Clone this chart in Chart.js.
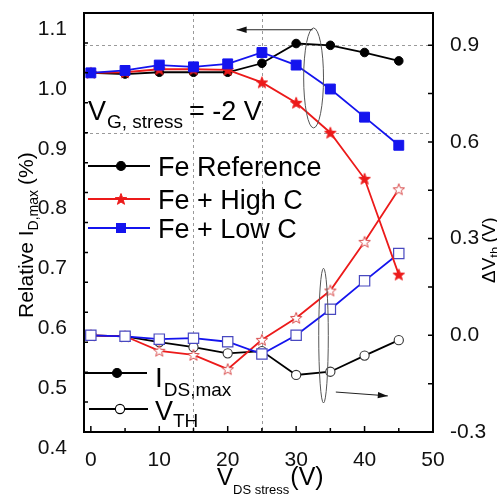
<!DOCTYPE html>
<html>
<head>
<meta charset="utf-8">
<script src="https://cdn.jsdelivr.net/npm/chart.js@4.4.1/dist/chart.umd.min.js"></script>
<style>
  html, body { margin: 0; padding: 0; background: #fff; }
  #wrap { width: 497px; height: 496px; }
</style>
</head>
<body>
<div id="wrap"><canvas id="c" width="497" height="496"></canvas></div>
<script>
// Drain stress voltage (V)
const vdsStress = [0, 5, 10, 15, 20, 25, 30, 35, 40, 45];

// Relative I_D,max (left axis)
const idsReference = [1.000, 0.998, 1.001, 1.001, 1.001, 1.016, 1.049, 1.046, 1.034, 1.020];
const idsHighC     = [1.000, 1.001, 1.006, 1.006, 1.005, 0.984, 0.950, 0.900, 0.823, 0.663];
const idsLowC      = [1.000, 1.004, 1.013, 1.010, 1.015, 1.034, 1.013, 0.973, 0.926, 0.879];

// Threshold voltage shift, V (right axis)
const vthReference = [0.000, -0.003, -0.021, -0.037, -0.056, -0.049, -0.123, -0.113, -0.063, -0.015];
const vthHighC     = [0.000, -0.003, -0.048, -0.061, -0.105, -0.014, 0.054, 0.139, 0.290, 0.453];
const vthLowC      = [0.000, -0.003, -0.012, -0.009, -0.020, -0.058, 0.000, 0.081, 0.169, 0.254];

// Axis ticks (marks) and labelled values
const xTickValues = [0, 5, 10, 15, 20, 25, 30, 35, 40, 45, 50];
const xTickLabels = [0, 10, 20, 30, 40, 50];
const leftTickValues = [0.4, 0.45, 0.5, 0.55, 0.6, 0.65, 0.7, 0.75, 0.8, 0.85, 0.9, 0.95, 1.0, 1.05, 1.1];
const leftTickLabels = [0.4, 0.5, 0.6, 0.7, 0.8, 0.9, 1.0, 1.1];
const rightTickValues = [-0.3, -0.15, 0, 0.15, 0.3, 0.45, 0.6, 0.75, 0.9];
const rightTickLabels = [-0.3, 0, 0.3, 0.6, 0.9];

const FONT = '"Liberation Sans", Arial, Helvetica, sans-serif';
const RED = '#ec1a1a';
const BLUE = '#1414ee';
const OPEN_RED = '#d84a4a';
const OPEN_BLUE = '#4848c0';

const pts = (ys) => vdsStress.map((x, i) => ({ x, y: ys[i] }));
const near = (v, list) => list.some(l => Math.abs(l - v) < 1e-6);

function starCanvas(r, fill, stroke, lw) {
  const s = Math.ceil(2 * r + 2 * lw + 2);
  const c = document.createElement('canvas');
  c.width = s; c.height = s;
  const g = c.getContext('2d');
  g.translate(s / 2, s / 2 + 0.5);
  g.beginPath();
  for (let i = 0; i < 10; i++) {
    const rr = i % 2 ? r * 0.42 : r;
    const a = -Math.PI / 2 + i * Math.PI / 5;
    g.lineTo(rr * Math.cos(a), rr * Math.sin(a));
  }
  g.closePath();
  g.fillStyle = fill; g.fill();
  g.lineWidth = lw; g.strokeStyle = stroke; g.stroke();
  return c;
}
const starFilled = starCanvas(6, RED, RED, 1);
const starOpen = starCanvas(6, '#fff', OPEN_RED, 1);

function series(label, data, axis, color, style, radius, fill, border, bw) {
  return {
    label, data: pts(data), yAxisID: axis,
    borderColor: color, borderWidth: 1.8, tension: 0,
    pointStyle: style, pointRadius: radius,
    pointBackgroundColor: fill, pointBorderColor: border, pointBorderWidth: bw,
    fill: false
  };
}

const datasets = [
  series('Fe + Low C', idsLowC, 'y', BLUE, 'rect', 7, BLUE, BLUE, 1),
  series('Fe + High C', idsHighC, 'y', RED, starFilled, 6, RED, RED, 1),
  series('Fe Reference', idsReference, 'y', '#000', 'circle', 4.3, '#000', '#000', 1),
  series('Fe + Low C', vthLowC, 'y2', BLUE, 'rect', 7.3, '#fff', OPEN_BLUE, 1.2),
  series('Fe + High C', vthHighC, 'y2', RED, starOpen, 6, '#fff', OPEN_RED, 1),
  series('Fe Reference', vthReference, 'y2', '#000', 'circle', 4.6, '#fff', '#333', 1.1)
];

// dashed reference lines, inner tick marks, frame
const framePlugin = {
  id: 'frame',
  beforeDatasetsDraw(chart) {
    const { ctx, chartArea: a, scales } = chart;
    ctx.save();
    ctx.strokeStyle = '#9a9a9a';
    ctx.lineWidth = 1;
    ctx.setLineDash([3, 3]);
    const hline = (y) => { ctx.beginPath(); ctx.moveTo(a.left, y); ctx.lineTo(a.right, y); ctx.stroke(); };
    const vline = (x) => { ctx.beginPath(); ctx.moveTo(x, a.top); ctx.lineTo(x, a.bottom); ctx.stroke(); };
    hline(Math.round(scales.y2.getPixelForValue(0.9)) + 0.5);
    hline(Math.round(scales.y.getPixelForValue(0.9)) + 0.5);
    vline(Math.round(scales.x.getPixelForValue(15)) + 0.5);
    vline(Math.round(scales.x.getPixelForValue(25)) + 0.5);
    ctx.restore();
  },
  afterDraw(chart) {
    const { ctx, chartArea: a, scales } = chart;
    ctx.save();
    ctx.strokeStyle = '#000';
    ctx.lineWidth = 1.5;
    ctx.setLineDash([]);
    ctx.beginPath();
    xTickValues.forEach(v => {
      const x = scales.x.getPixelForValue(v);
      const len = near(v, xTickLabels) ? 6 : 4;
      ctx.moveTo(x, a.bottom); ctx.lineTo(x, a.bottom - len);
    });
    leftTickValues.forEach(v => {
      const y = scales.y.getPixelForValue(v);
      ctx.moveTo(a.left, y); ctx.lineTo(a.left + 4, y);
    });
    rightTickValues.forEach(v => {
      const y = scales.y2.getPixelForValue(v);
      ctx.moveTo(a.right, y); ctx.lineTo(a.right - 5, y);
    });
    ctx.stroke();
    ctx.lineWidth = 2;
    ctx.strokeRect(a.left, a.top, a.right - a.left, a.bottom - a.top);
    ctx.restore();
  }
};

// text runs with subscripts: [text, size, baselineShift]
function runs(ctx, x, y, parts, color) {
  ctx.fillStyle = color || '#000';
  ctx.textBaseline = 'alphabetic';
  ctx.textAlign = 'left';
  let cx = x;
  parts.forEach(([t, size, dy]) => {
    ctx.font = size + 'px ' + FONT;
    ctx.fillText(t, cx, y + (dy || 0));
    cx += ctx.measureText(t).width;
  });
  return cx;
}

function arrow(ctx, x1, y1, x2, y2) {
  ctx.beginPath(); ctx.moveTo(x1, y1); ctx.lineTo(x2, y2); ctx.stroke();
  const ang = Math.atan2(y2 - y1, x2 - x1);
  const L = 10, W = 3.2;
  ctx.beginPath();
  ctx.moveTo(x2, y2);
  ctx.lineTo(x2 - L * Math.cos(ang) + W * Math.sin(ang), y2 - L * Math.sin(ang) - W * Math.cos(ang));
  ctx.lineTo(x2 - L * Math.cos(ang) - W * Math.sin(ang), y2 - L * Math.sin(ang) + W * Math.cos(ang));
  ctx.closePath(); ctx.fill();
}

function marker(ctx, kind, x, y) {
  ctx.save();
  if (kind === 'circle' || kind === 'ocircle') {
    ctx.beginPath(); ctx.arc(x, y, kind === 'circle' ? 4.5 : 4.6, 0, Math.PI * 2);
    ctx.fillStyle = kind === 'circle' ? '#000' : '#fff'; ctx.fill();
    ctx.lineWidth = 1.1; ctx.strokeStyle = '#000'; ctx.stroke();
  } else if (kind === 'star') {
    ctx.drawImage(starFilled, x - starFilled.width / 2, y - starFilled.height / 2);
  } else if (kind === 'rect') {
    ctx.fillStyle = BLUE; ctx.fillRect(x - 5, y - 5, 10, 10);
  }
  ctx.restore();
}

const textPlugin = {
  id: 'texts',
  afterDraw(chart) {
    const { ctx, scales } = chart;
    const X = (v) => scales.x.getPixelForValue(v);
    const YL = (v) => scales.y.getPixelForValue(v);
    const YR = (v) => scales.y2.getPixelForValue(v);
    ctx.save();

    // stress condition
    let cx = runs(ctx, 88, 120, [['V', 27]]);
    cx = runs(ctx, cx + 1, 128, [['G, stress', 19]]);
    runs(ctx, cx + 6, 120, [['= -2 V', 27]]);

    // material legend
    const items = [
      ['Fe Reference', '#000', 'circle', 166],
      ['Fe + High C', RED, 'star', 199],
      ['Fe + Low C', BLUE, 'rect', 228]
    ];
    items.forEach(([label, color, kind, y]) => {
      ctx.strokeStyle = color; ctx.lineWidth = 2;
      ctx.beginPath(); ctx.moveTo(88, y); ctx.lineTo(150, y); ctx.stroke();
      marker(ctx, kind, 121, y);
      runs(ctx, 158, y + 10, [['' + label, 27]]);
    });

    // quantity legend
    ctx.strokeStyle = '#000'; ctx.lineWidth = 2;
    ctx.beginPath(); ctx.moveTo(85, 373); ctx.lineTo(147, 373); ctx.stroke();
    marker(ctx, 'circle', 117, 373);
    cx = runs(ctx, 155, 387, [['I', 28]]);
    runs(ctx, cx + 1, 396, [['DS,max', 19]]);
    ctx.strokeStyle = '#000'; ctx.lineWidth = 2;
    ctx.beginPath(); ctx.moveTo(89, 409); ctx.lineTo(148, 409); ctx.stroke();
    marker(ctx, 'ocircle', 120, 409);
    cx = runs(ctx, 155, 420, [['V', 27]]);
    runs(ctx, cx, 427, [['TH', 19]]);

    // x axis title
    cx = runs(ctx, 217, 485, [['V', 24]]);
    cx = runs(ctx, cx, 494, [['DS stress', 13]]);
    runs(ctx, cx + 1, 485, [['(V)', 25]]);

    // left axis title
    ctx.save();
    ctx.translate(33, 318);
    ctx.rotate(-Math.PI / 2);
    cx = runs(ctx, 0, 0, [['Relative I', 21]]);
    cx = runs(ctx, cx, 5, [['D,max', 14]]);
    runs(ctx, cx + 5, 0, [['(%)', 21]]);
    ctx.restore();

    // right axis title
    ctx.save();
    ctx.translate(495, 283);
    ctx.rotate(-Math.PI / 2);
    cx = runs(ctx, 0, 0, [['\u0394V', 19]]);
    cx = runs(ctx, cx, 4, [['th', 13]]);
    runs(ctx, cx + 4, 0, [['(V)', 19]]);
    ctx.restore();

    // group markers: ellipse + arrow for each axis
    ctx.strokeStyle = '#555'; ctx.lineWidth = 1;
    const e1 = { x1: X(31.1), x2: X(34.0), y1: YL(1.075), y2: YL(0.908) };
    ctx.beginPath();
    ctx.ellipse((e1.x1 + e1.x2) / 2, (e1.y1 + e1.y2) / 2, (e1.x2 - e1.x1) / 2, (e1.y2 - e1.y1) / 2, 0, 0, Math.PI * 2);
    ctx.stroke();
    const e2 = { x1: X(33.3), x2: X(34.7), y1: YR(0.208), y2: YR(-0.210) };
    ctx.beginPath();
    ctx.ellipse((e2.x1 + e2.x2) / 2, (e2.y1 + e2.y2) / 2, (e2.x2 - e2.x1) / 2, (e2.y2 - e2.y1) / 2, 0, 0, Math.PI * 2);
    ctx.stroke();

    ctx.strokeStyle = '#222'; ctx.fillStyle = '#111'; ctx.lineWidth = 1;
    arrow(ctx, X(32.4), YL(1.072), X(21.3), YL(1.072));
    arrow(ctx, X(35.8), YR(-0.176), X(43.4), YR(-0.188));
    ctx.restore();
  }
};

const tickFont = { family: FONT, size: 21 };

// keep the plot box fixed: no automatic label overhang padding
const fitY = (w) => (s) => { s.width = w; s.paddingTop = 0; s.paddingBottom = 0; };
const fitX = (h) => (s) => { s.height = h; s.paddingLeft = 0; s.paddingRight = 0; };

new Chart(document.getElementById('c'), {
  type: 'line',
  data: { datasets },
  options: {
    responsive: false,
    animation: false,
    events: [],
    layout: { padding: { top: 13, left: 0, right: 0, bottom: 0 } },
    plugins: { legend: { display: false }, tooltip: { enabled: false } },
    scales: {
      x: {
        type: 'linear', position: 'bottom', min: -1, max: 50,
        afterBuildTicks: (s) => { s.ticks = xTickValues.map(v => ({ value: v })); },
        afterFit: fitX(64),
        ticks: {
          autoSkip: false, maxRotation: 0, padding: 8, color: '#111', font: tickFont,
          callback: (v) => near(v, xTickLabels) ? String(v) : ''
        },
        grid: { display: false }, border: { display: false }
      },
      y: {
        type: 'linear', position: 'left', min: 0.4, max: 1.1,
        afterBuildTicks: (s) => { s.ticks = leftTickValues.map(v => ({ value: v })); },
        afterFit: fitY(84),
        ticks: {
          autoSkip: false, padding: 9, labelOffset: 16, color: '#111', font: tickFont,
          callback: (v) => near(v, leftTickLabels) ? v.toFixed(1) : ''
        },
        grid: { display: false }, border: { display: false }
      },
      y2: {
        type: 'linear', position: 'right', min: -0.3, max: 1.0,
        afterBuildTicks: (s) => { s.ticks = rightTickValues.map(v => ({ value: v })); },
        afterFit: fitY(64),
        ticks: {
          autoSkip: false, padding: 9, color: '#111', font: tickFont,
          callback: (v) => near(v, rightTickLabels) ? v.toFixed(1) : ''
        },
        grid: { display: false }, border: { display: false }
      }
    }
  },
  plugins: [framePlugin, textPlugin]
});
</script>
</body>
</html>
